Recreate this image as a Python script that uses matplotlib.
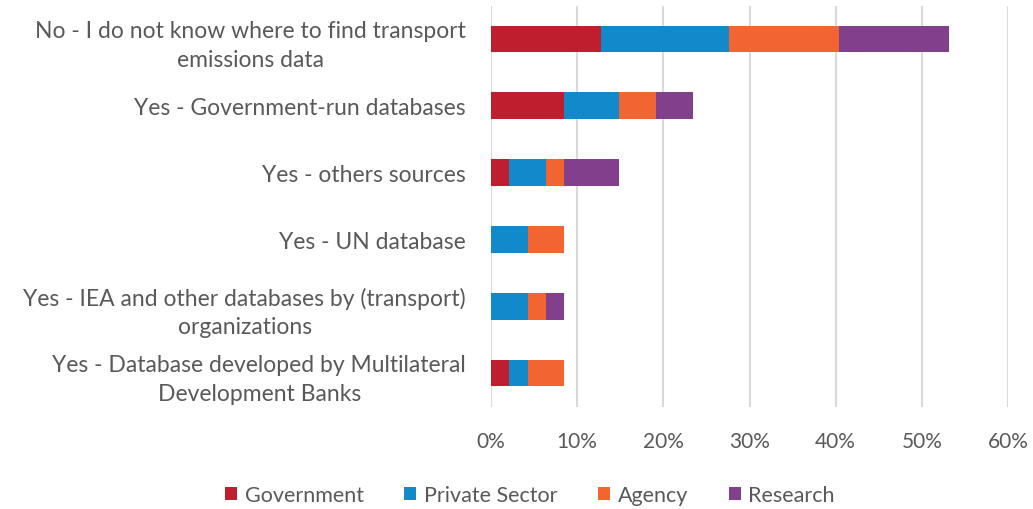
import matplotlib
matplotlib.use('Agg')
import matplotlib.pyplot as plt
from matplotlib.ticker import PercentFormatter

# survey answers, top to bottom
categories = [
    "No - I do not know where to find transport\nemissions data",
    "Yes - Government-run databases",
    "Yes - others sources",
    "Yes - UN database",
    "Yes - IEA and other databases by (transport)\norganizations",
    "Yes - Database developed by Multilateral\nDevelopment Banks",
]
government = [12.77, 8.51, 2.13, 0.0, 0.0, 2.13]
private_sector = [14.89, 6.38, 4.26, 4.26, 4.26, 2.13]
agency = [12.77, 4.26, 2.13, 4.26, 2.13, 4.26]
research = [12.77, 4.26, 6.38, 0.0, 2.13, 0.0]

series = [
    ("Government", government, "#BE1E2D"),
    ("Private Sector", private_sector, "#1289CB"),
    ("Agency", agency, "#F26531"),
    ("Research", research, "#813F8C"),
]

plt.rcParams['font.family'] = ['Lato', 'DejaVu Sans']
text_color = "#595959"

fig = plt.figure(figsize=(10.33, 5.10), dpi=100)
ax = fig.add_axes([491 / 1033, 1 - 407.5 / 510, (1008 - 491) / 1033, 401 / 510])

y = list(range(len(categories)))
left = [0.0] * len(categories)
for name, vals, color in series:
    ax.barh(y, vals, left=left, height=0.4, color=color, label=name, zorder=3)
    left = [a + b for a, b in zip(left, vals)]

ax.set_ylim(len(categories) - 0.5, -0.5)
ax.set_xlim(0, 60)
ax.set_xticks(range(0, 61, 10))
ax.xaxis.set_major_formatter(PercentFormatter(decimals=0))
ax.set_yticks(y)
ax.set_yticklabels(categories, ha='right', multialignment='center',
                   fontsize=16.5, linespacing=1.45)

ax.grid(axis='x', color='#D9D9D9', linewidth=1.5, zorder=0)
for s in ax.spines.values():
    s.set_visible(False)
ax.tick_params(length=0, colors=text_color)
ax.tick_params(axis='x', labelsize=15, pad=18)
ax.tick_params(axis='y', pad=18)

fig.legend(loc='center', bbox_to_anchor=(0.513, 1 - 496 / 510), ncol=4, frameon=False,
           fontsize=15.5, labelcolor=text_color, handlelength=0.55, handleheight=0.55,
           handletextpad=0.35, columnspacing=1.9, borderpad=0)

fig.savefig('out.png', dpi=100)
